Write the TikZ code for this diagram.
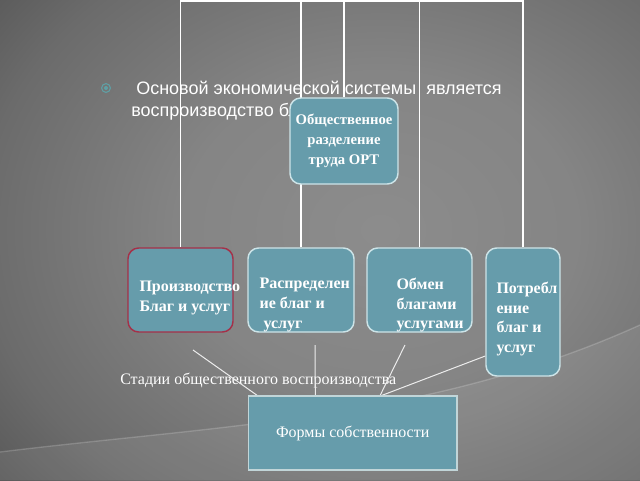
\documentclass[tikz,border=0pt]{standalone}
\usepackage{fontspec}
\setmainfont{Liberation Serif}
\newfontfamily\slidesans{Liberation Sans}
\definecolor{boxc}{RGB}{102,156,171}
\definecolor{edgec}{RGB}{205,228,232}
\definecolor{prodedge}{RGB}{165,48,72}
\definecolor{dotc}{RGB}{95,160,165}
\pgfdeclareradialshading{slidebg}{\pgfpoint{0bp}{0bp}}{%
  rgb(0bp)=(0.55,0.55,0.55); rgb(10bp)=(0.52,0.52,0.52); rgb(20bp)=(0.42,0.42,0.42);
  rgb(26bp)=(0.33,0.33,0.33); rgb(38bp)=(0.2,0.2,0.2); rgb(50bp)=(0.15,0.15,0.15);
  rgb(75bp)=(0.14,0.14,0.14)}
\pgfdeclarelayer{backdrop}
\pgfdeclarelayer{wires}
\pgfsetlayers{backdrop,wires,main}

\begin{document}
\begin{tikzpicture}[x=0.75pt, y=-0.75pt,
	stage/.style={draw=edgec, line width=1.1pt, fill=boxc, rounded corners=8pt, inner sep=0pt},
	caption/.style={text=white, font=\bfseries\fontsize{12}{14.8}\selectfont, align=left, inner sep=0pt},
	wire/.style={white, line width=1.4pt},
	tie/.style={white!85!gray, line width=0.75pt}]
	\useasboundingbox (0,0) rectangle (640,480);

	% stages of reproduction
	\node [stage, draw=prodedge, minimum width=78.75pt, minimum height=63pt,
		label={[caption, anchor=west, xshift=9pt, yshift=-6pt]west:{Производство\\Благ и услуг}}] (prod) at (180.5,290) {};
	\node [stage, minimum width=79.5pt, minimum height=63pt,
		label={[caption, anchor=west, xshift=9pt, yshift=-11.25pt]west:{Распределен\\ие благ и\\\ услуг}}] (ras) at (301,290) {};
	\node [stage, minimum width=78.75pt, minimum height=63pt,
		label={[caption, anchor=west, xshift=22.5pt, yshift=-11.25pt]west:{Обмен\\благами\\услугами}}] (obm) at (419.5,290) {};
	\node [stage, minimum width=55.5pt, minimum height=96pt,
		label={[caption, anchor=west, xshift=8.25pt, yshift=-5.25pt]west:{Потребл\\ение\\благ и\\услуг}}] (potr) at (523,312) {};
	\node [stage, caption, align=center, font=\bfseries\fontsize{11}{15}\selectfont,
		minimum width=81pt, minimum height=64.5pt] (ort) at (344,141) {Общественное\\разделение\\труда ОРТ};
	\node [draw=edgec!85!gray, line width=1pt, fill=boxc, text=white, font=\fontsize{12}{14}\selectfont,
		minimum width=156.4pt, minimum height=55.5pt] (form) at (352.7,433) {Формы собственности};

	\begin{pgfonlayer}{wires}
		\coordinate (ridge) at (0,1);
		\draw [wire] (prod.north) -- (prod.north |- ridge) -- (potr.north |- ridge) -- (potr.north);
		\foreach \n in {ras,ort,obm}
			\draw [wire] (\n.north) -- (\n.north |- ridge);
		\coordinate (s1) at (193,350);
		\coordinate (s2) at (315,345);
		\coordinate (s3) at (405,345);
		\coordinate (s4) at ([yshift=-33pt]potr.west);
		\draw [tie] (s1) -- ([xshift=7pt]form.north west);
		\draw [tie] (s2) -- ([xshift=-28pt]form.north);
		\draw [tie] (s3) -- ([xshift=20.6pt]form.north);
		\draw [tie] (s4) -- ([xshift=22pt]form.north);
	\end{pgfonlayer}

	\begin{pgfonlayer}{backdrop}
		\begin{scope}
			\clip (0,0) rectangle (640,480);
			\shade [shading=slidebg] (-120,-170) rectangle (880,630);
			\fill [white, opacity=.07] (0,480) -- (0,452) .. controls (220,425) and (430,420) .. (640,325) -- (640,480) -- cycle;
			\draw [white, opacity=.18, line width=1pt] (0,452) .. controls (220,425) and (430,420) .. (640,325);
		\end{scope}
		\draw [dotc, line width=0.8pt] (106,88) circle (3.3pt);
		\fill [dotc] (106,88) circle (1.5pt);
		\node [text=white, font=\slidesans\fontsize{13.5}{16.5}\selectfont, align=left, inner sep=0pt, anchor=north west]
			(intro) at (131,81) {\ Основой экономической системы \ является\\воспроизводство бл};
		\node [text=white, font=\fontsize{12}{14}\selectfont, inner sep=0pt, anchor=base west]
			(phases) at (120,384) {Стадии общественного воспроизводства};
	\end{pgfonlayer}
\end{tikzpicture}
\end{document}
